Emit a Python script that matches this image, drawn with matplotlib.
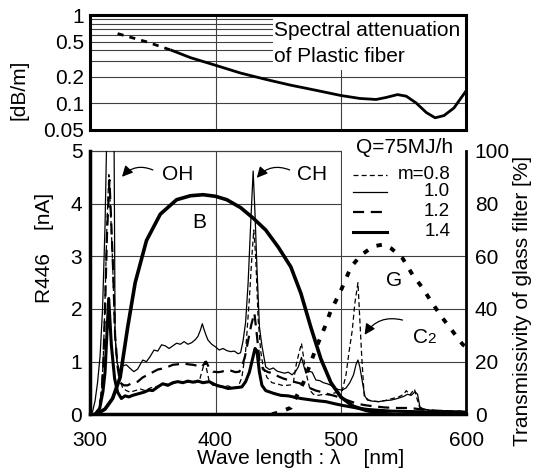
import matplotlib
matplotlib.use("Agg")
import matplotlib.pyplot as plt
from matplotlib.patches import Rectangle
from matplotlib.ticker import NullLocator, FixedLocator, FixedFormatter

plt.rcParams['font.family'] = ['Liberation Sans', 'DejaVu Sans']

# ---------------- data ----------------
# Spectral attenuation of plastic fiber [dB/m]
att_dash_nm = [322, 345, 365]
att_dash_val = [0.62, 0.50, 0.40]
att_nm = [365, 380, 400, 420, 441, 460, 480, 500, 515, 528, 536, 545, 552, 560, 568, 575, 582, 590, 600]
att_val = [0.40, 0.33, 0.27, 0.22, 0.185, 0.16, 0.14, 0.122, 0.113, 0.11, 0.116, 0.125, 0.12, 0.10, 0.078, 0.068, 0.072, 0.088, 0.14]

# Spectra R446 [nA]
m08_nm = [300, 304, 307, 309, 310.5, 312, 313.5, 315, 316.5, 318, 319.5, 321, 323.5, 326, 329, 332, 336, 340, 344,
          348, 352, 356, 360, 364, 368, 372, 376, 380, 384, 387, 389, 391.5, 393, 395, 398, 402, 406, 410, 414,
          418, 421, 424, 427, 429, 430.5, 432, 434, 436, 438, 441, 445, 449, 453, 457, 460, 462, 464.5, 468.5,
          471, 473, 475.5, 478, 482, 486, 490, 494, 498, 501, 504, 506.5, 509, 511, 513.5, 515, 516.5, 518.5,
          522, 526, 530, 535, 541, 546, 550, 552, 555, 558.5, 560.5, 562.5, 566, 570, 575, 580, 585, 590, 595, 600]
m08_val = [0.0, 0.0, 0.1, 0.4, 1.0, 2.2, 3.6, 4.55, 3.8, 2.9, 1.7, 1.1, 0.7, 0.5, 0.45, 0.42, 0.45, 0.48, 0.45,
           0.5, 0.52, 0.55, 0.58, 0.56, 0.6, 0.62, 0.6, 0.63, 0.6, 0.62, 0.8, 1.0, 0.85, 0.62, 0.55, 0.56, 0.52, 0.54, 0.5,
           0.52, 0.7, 1.2, 2.2, 3.0, 3.5, 3.0, 1.8, 1.2, 0.9, 0.7, 0.6, 0.58, 0.55, 0.55, 0.56, 0.6, 0.97, 1.35,
           0.95, 0.7, 0.45, 0.38, 0.36, 0.38, 0.37, 0.4, 0.42, 0.45, 0.75, 1.2, 1.6, 2.1, 2.5, 1.8, 1.1, 0.35,
           0.27, 0.25, 0.24, 0.26, 0.3, 0.33, 0.38, 0.45, 0.37, 0.48, 0.3, 0.14, 0.1, 0.08, 0.06, 0.07, 0.06, 0.05, 0.06, 0.05]

m10_nm = [300, 302, 304, 306, 308, 310, 312, 313.5, 316, 319, 320, 321.5, 323.5, 326, 329, 332, 335, 338, 342, 345,
          348, 351, 354, 357, 360, 363, 366, 369, 372, 375, 378, 381, 384, 386, 388, 389.5, 391, 392.5, 394, 397,
          400, 403, 406, 409, 412, 415, 418, 420, 422, 424, 426, 428, 430, 431.5, 433, 435, 437, 440, 443, 446,
          449, 452, 455, 458, 461, 464, 466, 468.5, 470, 472, 474, 477, 480, 483, 486, 489, 492, 495, 498, 501,
          504, 507, 510, 512, 513.5, 515, 517, 519, 521, 525, 530, 535, 540, 545, 550, 553, 556, 559, 561, 563,
          566, 570, 575, 580, 585, 590, 595, 600]
m10_val = [0.0, 0.05, 0.25, 0.6, 1.1, 2.0, 3.6, 5.5, 8.0, 6.0, 1.5, 1.0, 0.82, 0.92, 0.94, 0.87, 0.81, 0.86, 1.03, 1.0,
           1.1, 1.22, 1.2, 1.32, 1.3, 1.25, 1.3, 1.35, 1.33, 1.38, 1.33, 1.36, 1.42, 1.48, 1.6, 1.72, 1.6, 1.5, 1.41, 1.33,
           1.28, 1.22, 1.25, 1.21, 1.19, 1.2, 1.15, 1.17, 1.4, 1.75, 2.5, 3.6, 4.62, 3.8, 2.8, 1.66, 1.3, 0.9, 0.85, 0.88,
           0.82, 0.8, 0.78, 0.8, 0.75, 0.82, 0.9, 1.08, 0.95, 0.78, 0.82, 0.8, 0.65, 0.64, 0.6, 0.58, 0.55, 0.5, 0.47, 0.46,
           0.5, 0.6, 0.75, 0.95, 1.03, 0.9, 0.62, 0.35, 0.27, 0.25, 0.24, 0.26, 0.27, 0.3, 0.34, 0.38, 0.36, 0.43, 0.38, 0.12,
           0.1, 0.08, 0.07, 0.06, 0.07, 0.05, 0.06, 0.05]

m12_nm = [300, 304, 307, 309, 310.5, 312, 313.5, 315.5, 317, 318.5, 320, 322, 324, 327, 330, 334, 338, 342, 346, 350,
          354, 358, 362, 366, 370, 374, 378, 382, 386, 389, 392.5, 395, 398, 402, 405, 409, 412, 416, 419, 421,
          423.5, 426, 428.5, 431, 433, 435, 438, 442, 446, 450, 454, 458, 462, 467, 471, 475, 480, 485, 490, 495,
          501, 507, 513, 520, 527, 535, 545, 555, 565, 575, 585, 595, 600]
m12_val = [0.0, 0.0, 0.1, 0.35, 0.9, 2.0, 3.4, 4.45, 3.6, 2.7, 1.5, 0.9, 0.6, 0.55, 0.55, 0.6, 0.62, 0.7, 0.75, 0.8,
           0.85, 0.87, 0.9, 0.94, 0.95, 0.97, 0.95, 0.94, 0.92, 0.9, 1.0, 0.88, 0.81, 0.8, 0.81, 0.84, 0.83, 0.8, 0.81, 0.9,
           1.1, 1.4, 1.7, 1.92, 1.5, 1.03, 0.85, 0.8, 0.78, 0.72, 0.68, 0.65, 0.62, 0.59, 0.55, 0.5, 0.45, 0.42, 0.38, 0.35,
           0.3, 0.25, 0.2, 0.17, 0.15, 0.13, 0.12, 0.12, 0.09, 0.07, 0.06, 0.05, 0.05]

m14_nm = [300, 304, 307.7, 310.3, 312, 313, 314.9, 317, 319.6, 322, 325, 328, 331, 334, 337, 340, 343, 347, 350, 354,
          358, 362, 366, 370, 374, 378, 382, 386, 390, 395, 399, 402, 406, 410, 414, 418, 421, 424, 427, 429.5,
          431.5, 433, 435, 437, 440, 446, 452, 458, 462, 468, 474, 480, 488, 495, 501, 508, 515, 522, 528, 540,
          560, 580, 600]
m14_val = [0.0, 0.0, 0.11, 0.43, 0.8, 1.3, 2.2, 1.32, 0.68, 0.42, 0.3, 0.35, 0.33, 0.36, 0.38, 0.4, 0.42, 0.46, 0.45, 0.52,
           0.58, 0.55, 0.6, 0.62, 0.6, 0.63, 0.61, 0.63, 0.6, 0.62, 0.57, 0.54, 0.52, 0.49, 0.5, 0.51, 0.52, 0.62, 0.8, 1.05,
           1.25, 1.2, 0.8, 0.55, 0.45, 0.4, 0.36, 0.35, 0.33, 0.3, 0.28, 0.26, 0.24, 0.2, 0.17, 0.14, 0.11, 0.09, 0.08, 0.06,
           0.05, 0.04, 0.04]

# Glass filter transmissivity [%]
B_nm = [305, 312, 318, 324, 330, 336, 345, 356, 369, 380, 390, 400, 409, 420, 430, 440, 450, 460, 468, 476,
        484, 492, 500, 510, 520, 530, 540]
B_val = [0, 2, 6, 14, 33, 50, 66, 76, 81.5, 83, 83.4, 82.8, 81.5, 78.5, 74.5, 70, 63.5, 56, 46, 33,
         21, 12, 6.5, 3, 1.5, 0.5, 0]
G_nm = [445, 452, 460, 470, 480, 487, 492, 499, 508, 516, 522, 528, 534, 540, 549, 557, 565, 573, 581, 589, 597, 600]
G_val = [0, 1, 2.5, 12, 25, 33, 39.5, 46, 56, 60.5, 62.5, 64, 64.5, 63, 59.3, 53, 48, 42, 36.5, 31.5, 26.5, 25.5]

legend_labels = ['m=0.8', '1.0', '1.2', '1.4']
x_ticks = [300, 400, 500, 600]
left_ticks = [0, 1, 2, 3, 4, 5]
right_ticks = [0, 20, 40, 60, 80, 100]
top_ticks = [0.05, 0.1, 0.2, 0.5, 1]
top_tick_labels = ['0.05', '0.1', '0.2', '0.5', '1']

# ---------------- figure ----------------
W, H = 537, 471
fig = plt.figure(figsize=(W / 100, H / 100), dpi=100)

def fx(px):
    return px / W

def fy(py):
    return 1 - py / H

FS = 15
GRID = dict(color='0.25', lw=0.8, zorder=0.5)

# ---- top panel ----
L, R = 90, 466.5
axt = fig.add_axes([fx(L), fy(129.5), fx(R) - fx(L), (129.5 - 15.4) / H])
axt.set_yscale('log')
axt.set_xlim(300, 600)
axt.set_ylim(0.05, 1)
axt.yaxis.set_major_locator(FixedLocator(top_ticks))
axt.yaxis.set_major_formatter(FixedFormatter(top_tick_labels))
axt.yaxis.set_minor_locator(NullLocator())
axt.set_xticks(x_ticks)
axt.tick_params(axis='x', length=0, labelbottom=False)
axt.tick_params(axis='y', length=0, pad=4, labelsize=FS)
for s in axt.spines.values():
    s.set_linewidth(2.2)
for v in [0.1, 0.2, 0.3, 0.4, 0.5, 0.6, 0.7, 0.8, 0.9]:
    axt.axhline(v, **GRID)
for v in [400, 500]:
    axt.axvline(v, **GRID)
axt.add_patch(Rectangle((446, 0.238), 160, 0.8, facecolor='white', edgecolor='none', zorder=1))
axt.plot(att_dash_nm, att_dash_val, color='black', lw=2.0, ls=(0, (2.2, 2.2)), zorder=3)
axt.plot(att_nm, att_val, color='black', lw=2.0, zorder=3)
axt.text(447, 0.68, 'Spectral attenuation', fontsize=FS, ha='left', va='center', zorder=4)
axt.text(447, 0.338, 'of Plastic fiber', fontsize=FS, ha='left', va='center', zorder=4)
fig.text(fx(19), fy(90), '[dB/m]', rotation=90, fontsize=FS, ha='center', va='center')

# ---- bottom panel ----
ax = fig.add_axes([fx(L), fy(414.3), fx(R) - fx(L), (414.3 - 151) / H])
ax.set_xlim(300, 600)
ax.set_ylim(0, 5)
ax.set_xticks(x_ticks)
ax.set_yticks(left_ticks)
ax.tick_params(axis='x', length=0, pad=12, labelsize=FS)
ax.tick_params(axis='y', length=0, pad=5.5, labelsize=FS)
ax.spines['left'].set_linewidth(2.5)
ax.spines['bottom'].set_linewidth(2.5)
ax.spines['top'].set_visible(False)
ax.spines['right'].set_visible(False)
for v in [1, 2, 3, 4]:
    ax.axhline(v, **GRID)
for v in [400, 500]:
    ax.axvline(v, **GRID)
ax.plot([300, 500], [5, 5], color='0.25', lw=0.9, clip_on=False, zorder=0.6)
ax.add_patch(Rectangle((501, 3.3), 100, 1.8, facecolor='white', edgecolor='none', zorder=1.2, clip_on=False))

ax.plot(m08_nm, m08_val, color='black', lw=0.9, ls=(0, (4, 2.5)), zorder=3)
ax.plot(m10_nm, m10_val, color='black', lw=0.9, zorder=3)
ax.plot(m12_nm, m12_val, color='black', lw=1.6, ls=(0, (5, 3)), zorder=3)
ax.plot(m14_nm, m14_val, color='black', lw=2.2, zorder=3)

# legend (drawn by hand)
leg_y = [4.55, 4.23, 3.85, 3.47]
leg_styles = [dict(lw=0.9, ls=(0, (4, 2.5))), dict(lw=0.9, ls='-'),
              dict(lw=1.6, ls=(0, (5, 3))), dict(lw=2.2, ls='-')]
for yy, lab, st in zip(leg_y, legend_labels, leg_styles):
    ax.plot([509.2, 536.3], [yy, yy], color='black', zorder=4, **st)
    ax.text(587, yy, lab, fontsize=13.5, ha='right', va='center', zorder=4)
ax.text(589, 5.06, 'Q=75MJ/h', fontsize=FS, ha='right', va='center', zorder=4, clip_on=False)

# labels and arrows
ax.text(369.6, 4.55, 'OH', fontsize=FS, ha='center', va='center', zorder=4)
ax.text(477, 4.55, 'CH', fontsize=FS, ha='center', va='center', zorder=4)
ax.text(386.7, 3.64, 'B', fontsize=FS, ha='center', va='center', zorder=4)
ax.text(542.6, 2.55, 'G', fontsize=FS, ha='center', va='center', zorder=4)
ax.text(563.7, 1.35, 'C', fontsize=FS, ha='center', va='baseline', zorder=4)
ax.text(572.5, 1.35, '2', fontsize=11, ha='center', va='baseline', zorder=4)
arrow = dict(arrowstyle='-|>', connectionstyle='arc3,rad=0.35', color='black', lw=0.9,
             shrinkA=0, shrinkB=0, mutation_scale=16)
ax.annotate('', xy=(325.5, 4.51), xytext=(350.1, 4.64), arrowprops=arrow, zorder=4)
ax.annotate('', xy=(432.9, 4.49), xytext=(459.1, 4.64), arrowprops=arrow, zorder=4)
ax.annotate('', xy=(518.8, 1.51), xytext=(549.0, 1.79), arrowprops=arrow, zorder=4)

# right axis: glass filter transmissivity
ax2 = ax.twinx()
ax2.set_ylim(0, 100)
ax2.set_yticks(right_ticks)
ax2.tick_params(axis='y', length=0, pad=6, labelsize=FS)
for side in ['left', 'top', 'bottom']:
    ax2.spines[side].set_visible(False)
ax2.spines['right'].set_linewidth(2.0)
ax2.plot(B_nm, B_val, color='black', lw=2.6, zorder=3)
ax2.plot(G_nm, G_val, color='black', lw=2.8, ls=(0, (1.4, 2.4)), zorder=3)

fig.text(fx(44.5), fy(248), 'R446    [nA]', rotation=90, fontsize=FS, ha='center', va='center')
fig.text(fx(523), fy(301), 'Transmissivity of glass filter [%]', rotation=90, fontsize=FS,
         ha='center', va='center')
fig.text(fx(301), fy(459), 'Wave length : λ    [nm]', fontsize=FS, ha='center', va='center')

fig.savefig('out.png', dpi=100)
